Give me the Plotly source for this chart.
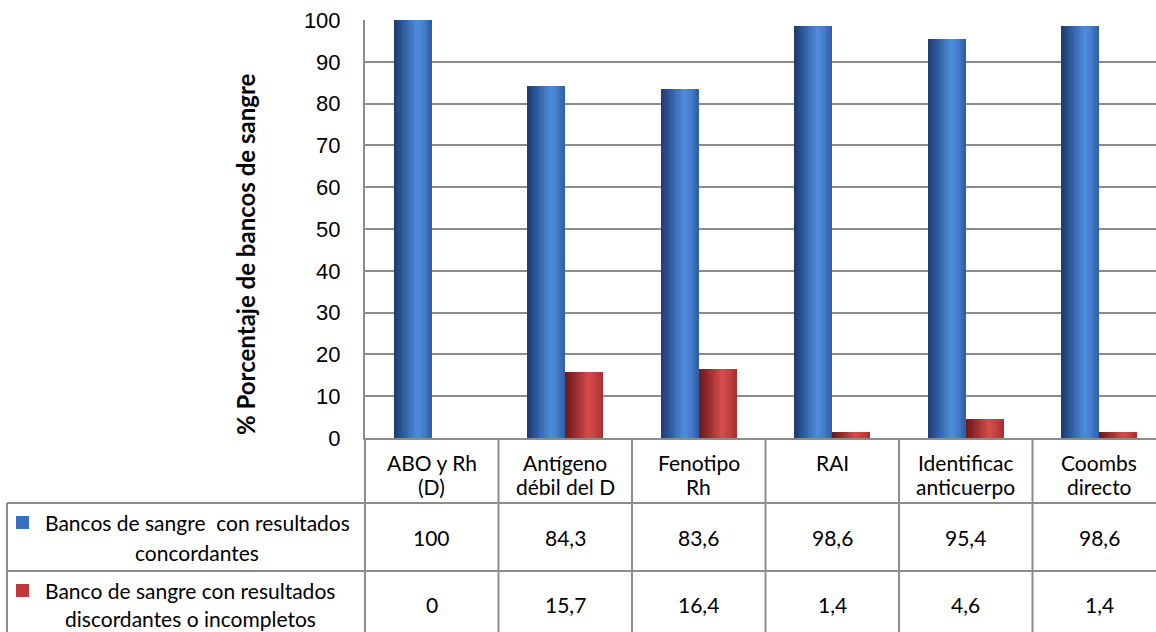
import plotly.graph_objects as go

# Categories and series values
categories = ["ABO y Rh<br>(D)", "Antígeno<br>débil del D", "Fenotipo<br>Rh", "RAI",
              "Identificac<br>anticuerpo", "Coombs<br>directo"]
concordantes = [100, 84.3, 83.6, 98.6, 95.4, 98.6]
discordantes = [0, 15.7, 16.4, 1.4, 4.6, 1.4]
series_names = ["Bancos de sangre\u00a0 con resultados<br>concordantes",
                "Banco de sangre con resultados<br>discordantes o incompletos"]
y_ticks = [0, 10, 20, 30, 40, 50, 60, 70, 80, 90, 100]

W, H = 1156, 632
ML, MR, MT, MB = 365, 0, 20, 194
PW, PH = W - ML - MR, H - MT - MB
CAT_W = 133.5  # pixel width of one category column
X0 = -0.5
X1 = X0 + PW / CAT_W
BAR_W = 0.285
N_STRIPS = 16

FONT_TXT = "Lato"
TXT_SIZE = 21
GRID = "#8c8c8c"


def px_x(X):
    return (X - ML) / PW


def px_y(Y):
    return (H - MB - Y) / PH


def data_to_paper_x(xd):
    return (xd - X0) / (X1 - X0)


def lerp_color(stops, t):
    for (t0, c0), (t1, c1) in zip(stops, stops[1:]):
        if t0 <= t <= t1:
            f = (t - t0) / (t1 - t0) if t1 > t0 else 0
            c = [round(a + (b - a) * f) for a, b in zip(c0, c1)]
            return "rgb({},{},{})".format(*c)
    c = stops[-1][1]
    return "rgb({},{},{})".format(*c)


blue_stops = [(0.0, (30, 58, 104)), (0.2, (42, 84, 148)), (0.62, (80, 142, 222)),
              (0.8, (68, 124, 200)), (1.0, (46, 92, 164))]
red_stops = [(0.0, (104, 26, 28)), (0.2, (140, 38, 40)), (0.62, (214, 78, 76)),
             (0.8, (196, 64, 64)), (1.0, (168, 46, 48))]

fig = go.Figure()
xs = list(range(len(categories)))

# Cylinder-like shading: each bar is built from narrow vertical strips
for values, stops, start in [(concordantes, blue_stops, -BAR_W), (discordantes, red_stops, 0.0)]:
    sw = BAR_W / N_STRIPS
    for k in range(N_STRIPS):
        t = (k + 0.5) / N_STRIPS
        fig.add_trace(go.Bar(
            x=xs, y=values, offset=start + k * sw, width=sw * 1.04,
            marker=dict(color=lerp_color(stops, t), line=dict(width=0)),
            showlegend=False, hoverinfo="skip"))

fig.update_layout(
    width=W, height=H,
    margin=dict(l=ML, r=MR, t=MT, b=MB, pad=0),
    paper_bgcolor="white", plot_bgcolor="white",
    barmode="overlay", bargap=0,
    showlegend=False,
    xaxis=dict(range=[X0, X1], showticklabels=False, showgrid=False, zeroline=False,
               showline=True, linecolor=GRID, linewidth=2, ticks=""),
    yaxis=dict(range=[0, 100], tickvals=y_ticks, showgrid=True, gridcolor=GRID, gridwidth=2,
               zeroline=False, showline=True, linecolor=GRID, linewidth=2, ticks="",
               ticklabelstandoff=18,
               tickfont=dict(family="Liberation Sans", size=22, color="black")),
)

shapes = []
line = dict(color=GRID, width=2)
y_top, y_r1, y_r2, y_bot = px_y(438), px_y(503), px_y(571), px_y(640)
# Vertical column borders of the data table
for i in range(len(categories) + 1):
    xp = data_to_paper_x(i - 0.5)
    if xp > 1.0001:
        continue
    shapes.append(dict(type="line", xref="paper", yref="paper", x0=xp, x1=xp,
                       y0=y_top, y1=y_bot, line=line))
# Left border of the row-header column
shapes.append(dict(type="line", xref="paper", yref="paper", x0=px_x(7), x1=px_x(7),
                   y0=y_r1, y1=y_bot, line=line))
# Horizontal row borders
for yy in (y_r1, y_r2):
    shapes.append(dict(type="line", xref="paper", yref="paper", x0=px_x(7), x1=1,
                       y0=yy, y1=yy, line=line))
# Legend keys
for (yk0, yk1), col in [((516, 529), "#3a6fbf"), ((584, 597), "#c03a3a")]:
    shapes.append(dict(type="rect", xref="paper", yref="paper", x0=px_x(16), x1=px_x(29),
                       y0=px_y(yk1), y1=px_y(yk0), fillcolor=col, line=dict(width=0)))

annotations = []
tf = dict(family=FONT_TXT, size=TXT_SIZE, color="black")


def add_lines(text, xp, centers):
    # one annotation per text line, to keep the tight cell line spacing
    for part, yc in zip(text.split("<br>"), centers):
        annotations.append(dict(x=xp, y=px_y(yc), xref="paper", yref="paper", text=part,
                                showarrow=False, xanchor="center", yanchor="middle", font=tf))


for i, cat in enumerate(categories):
    xp = data_to_paper_x(i)
    add_lines(cat, xp, (462, 486))
    add_lines(f"{concordantes[i]:g}".replace(".", ","), xp, (537,))
    add_lines(f"{discordantes[i]:g}".replace(".", ","), xp, (604,))
add_lines(series_names[0], px_x(197), (522, 552))
add_lines(series_names[1], px_x(190), (590, 618))

annotations.append(dict(x=px_x(246), y=px_y(254), xref="paper", yref="paper",
                        text="<b>% Porcentaje de bancos de sangre</b>", textangle=-90,
                        showarrow=False, xanchor="center", yanchor="middle",
                        font=dict(family=FONT_TXT, size=24, color="black")))

fig.update_layout(shapes=shapes, annotations=annotations)
fig.write_html("out.html")
